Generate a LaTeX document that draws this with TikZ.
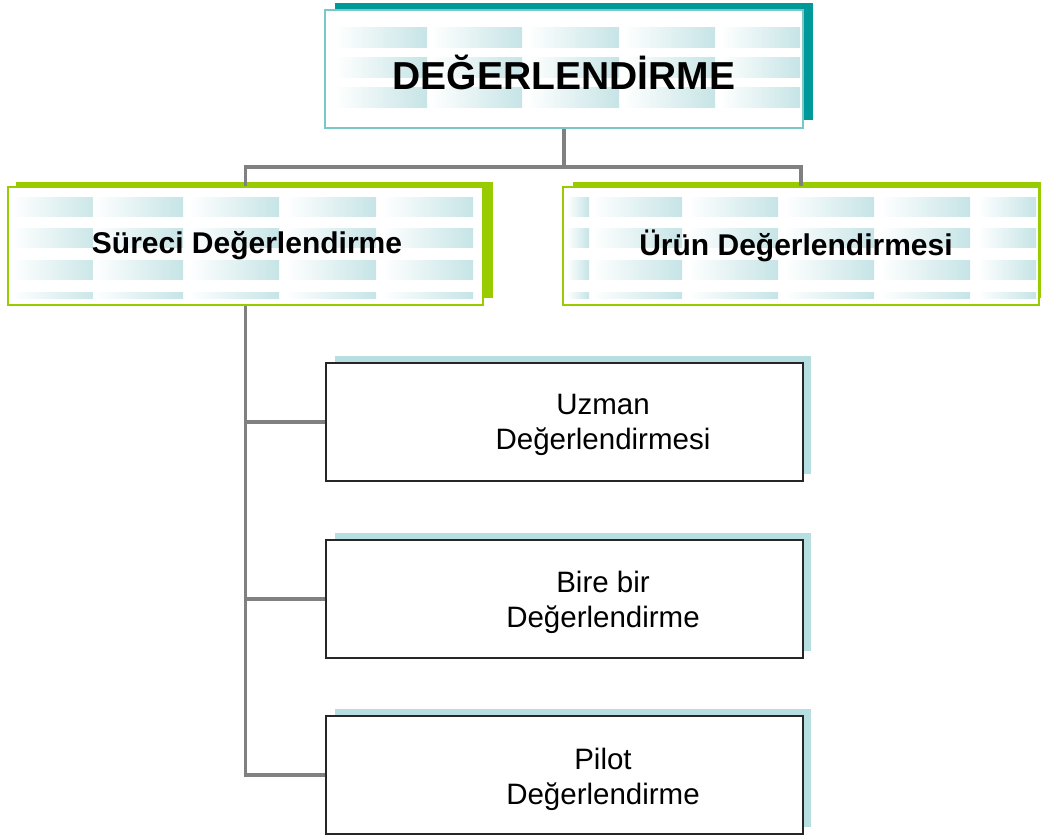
\documentclass[tikz,border=0pt]{standalone}
\usepackage{fontspec}
\setmainfont{Liberation Sans}
\definecolor{tealdark}{RGB}{0,153,153}
\definecolor{teallight}{RGB}{120,200,200}
\definecolor{patt}{RGB}{198,228,230}
\definecolor{greenb}{RGB}{153,204,0}
\definecolor{shadowlt}{RGB}{183,222,224}
\definecolor{conngray}{RGB}{128,128,128}
\tikzset{
  conn/.style={draw=conngray, line width=3.5pt},
  topbox/.style={draw=teallight, line width=2.5pt, minimum width=478pt, minimum height=118pt, inner sep=0pt},
  greenbox/.style={draw=greenb, line width=2pt, minimum width=475pt, minimum height=118pt, inner sep=0pt},
  childbox/.style={draw=black!85, line width=1.6pt, minimum width=477pt, minimum height=118pt, inner sep=0pt},
  boldtxt/.style={font=\bfseries\fontsize{30}{34}\selectfont, inner sep=0pt},
  childtxt/.style={font=\fontsize{29.5}{35}\selectfont, align=center, inner sep=0pt},
}
\begin{document}
\begin{tikzpicture}[x=1pt,y=-1pt]
\useasboundingbox (0,0) rectangle (1041,839);
\clip (0,0) rectangle (1041,839);
% ---- shadows and fills ----
\fill[tealdark] (335,3) rectangle (813,120);
\fill[white] (325,10) rectangle (803,128);
\foreach \r in {27,57,87} {
  \foreach \c/\w in {335/92,430/92,527/92,623/92,720/80} {
    \shade[left color=white, right color=patt] (\c,\r) rectangle ++(\w,20);
  }
}
% green boxes
\fill[greenb] (16,182) rectangle (493,298);
\fill[white] (8,187) rectangle (483,305);
\fill[greenb] (573,182) rectangle (1050,298);
\fill[white] (563,187) rectangle (1039,305);
\foreach \r/\h in {197/19,228/19,260/19,292/6} {
  \foreach \c in {12,93,189,286,383} {
    \shade[left color=white, right color=patt] (\c,\r) rectangle ++(90,\h);
  }
  \foreach \c/\w in {567/22,592/90,688/90,784/90,880/90,978/58} {
    \shade[left color=white, right color=patt] (\c,\r) rectangle ++(\w,\h);
  }
}
% child shadows
\fill[shadowlt] (335,356) rectangle (811,474);
\fill[white] (326,363) rectangle (803,481);
\fill[shadowlt] (335,533) rectangle (811,651);
\fill[white] (326,540) rectangle (803,658);
\fill[shadowlt] (335,709) rectangle (811,827);
\fill[white] (326,716) rectangle (803,834);
% ---- nodes ----
\node[topbox] (top) at (564,69) {};
\node[font=\bfseries\fontsize{39}{44}\selectfont, inner sep=0pt] (toptxt) at (564,72) {DEĞERLENDİRME};
\node[greenbox] (sur) at (245.5,246) {};
\node[boldtxt] (surtxt) at (247,246) {Süreci Değerlendirme};
\node[greenbox, minimum width=476pt] (urun) at (801,246) {};
\node[boldtxt] (uruntxt) at (796,246) {Ürün Değerlendirmesi};
\node[childbox] (c1) at (564.5,422) {};
\node[childtxt] (c1t) at (603,425) {Uzman\\Değerlendirmesi};
\node[childbox] (c2) at (564.5,599) {};
\node[childtxt] (c2t) at (603,602) {Bire bir\\Değerlendirme};
\node[childbox] (c3) at (564.5,775) {};
\node[childtxt] (c3t) at (603,779) {Pilot\\Değerlendirme};
% ---- connectors ----
\coordinate (j) at (564,167);
\draw[conn] (top.south) -- (j);
\draw[conn] (sur.north) |- (j) -| (urun.north);
\draw[conn] (sur.south) |- (c3.west);
\draw[conn] (sur.south |- c1.west) -- (c1.west);
\draw[conn] (sur.south |- c2.west) -- (c2.west);
\end{tikzpicture}
\end{document}
